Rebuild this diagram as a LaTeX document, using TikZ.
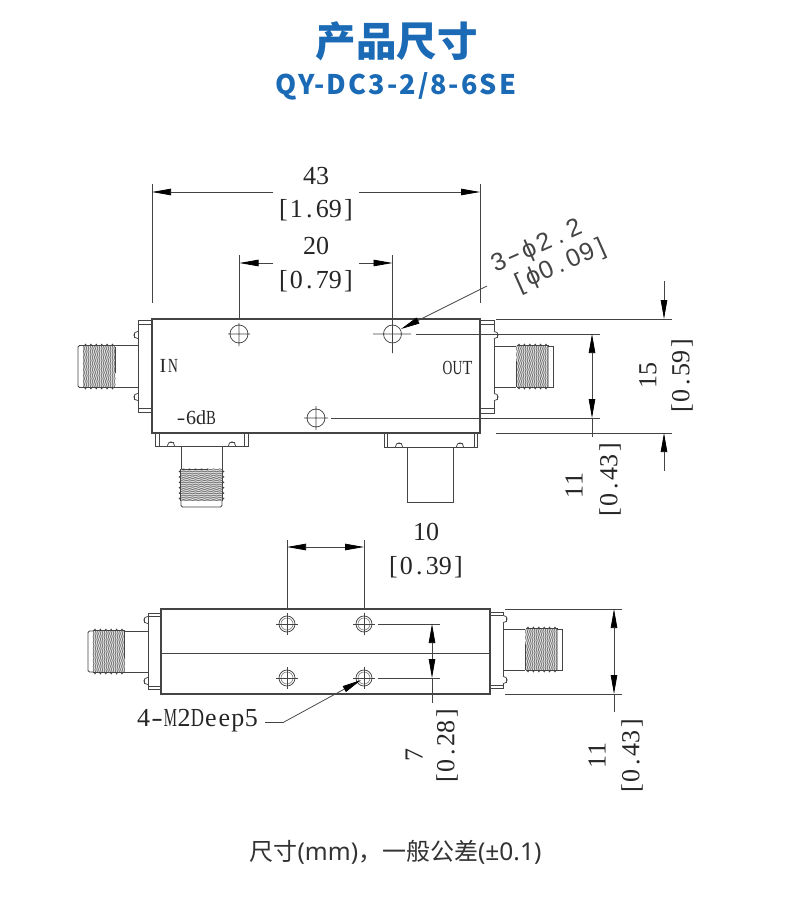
\documentclass[tikz,border=0pt]{standalone}
\usepackage{fontspec}
\usepackage{graphicx}
\usetikzlibrary{arrows.meta}
\setmainfont{Liberation Serif}
\newfontfamily\cjk{Noto Sans CJK SC}
\newfontfamily\lat{Noto Sans}
\newfontfamily\lbl{Liberation Sans}
\definecolor{titleblue}{HTML}{1B6AB5}
\definecolor{ink}{HTML}{444444}
\newlength\mwid
\makeatletter
\def\hy@{-}
\newcommand\mono[2][.5em]{\begingroup\setlength\mwid{#1}\@tfor\mc@:=#2\do{\sbox0{\mc@}\ifx\mc@\hy@\makebox[\mwid]{\resizebox{.85\mwid}{\height}{-}}\else\ifdim\wd0>\mwid\makebox[\mwid]{\resizebox{.98\mwid}{\height}{\mc@}}\else\makebox[\mwid]{\mc@}\fi\fi}\endgroup}
\makeatother
\newcommand\szz[1]{\fontsize{#1}{#1}\selectfont}
% thread of a connector: centre, rotation
\newcommand\thr[3]{\begin{scope}[shift={(#1,#2)},rotate=#3]
 \fill[gray!60] (-16,-21) rectangle (16,21);
 \foreach \i in {0,...,14}{
  \pgfmathsetmacro\tx{-15.5+\i*2.2}
  \draw[line width=.5pt,gray!80!black] (\tx,-21) -- ++(1,3) -- ++(-1,3) -- ++(1,3) -- ++(-1,3) -- ++(1,3) -- ++(-1,3) -- ++(1,3) -- ++(-1,3) -- ++(1,3) -- ++(-1,3) -- ++(1,3) -- ++(-1,3) -- ++(1,3) -- ++(-1,3);
  \draw[line width=.35pt,white] (\tx+1.1,-21) -- ++(1,3) -- ++(-1,3) -- ++(1,3) -- ++(-1,3) -- ++(1,3) -- ++(-1,3) -- ++(1,3) -- ++(-1,3) -- ++(1,3) -- ++(-1,3) -- ++(1,3) -- ++(-1,3) -- ++(1,3) -- ++(-1,3);
 }
 \foreach \i in {0,...,5}{
  \pgfmathsetmacro\tx{-13.5+\i*5.4}
  \fill[ink] (\tx-1.4,-21) -- (\tx,-23) -- (\tx+1.4,-21) -- cycle;
  \fill[ink] (\tx-1.4,21) -- (\tx,23) -- (\tx+1.4,21) -- cycle;
 }
 \draw[ink,line width=.5pt] (-16,-21) -- (16,-21) (-16,21) -- (16,21);
 \draw[ink,line width=1pt] (16,-20) -- (16,6);
\end{scope}}
% screw head on a flange
\newcommand\bump[3]{\begin{scope}[shift={(#1,#2)},rotate=#3]
 \draw[dline,fill=white] (0,-3.6) .. controls (-5.5,-3.6) and (-5.5,3.6) .. (0,3.6);
 \draw[line width=.5pt,ink] (-3.5,-2.5) -- (-3.5,2.5);
\end{scope}}
\tikzset{
 dline/.style={draw=ink,line width=.75pt},
 body/.style={draw=ink,line width=1.1pt},
 dimarr/.style={draw=ink,line width=.75pt,-{Triangle[length=19pt,width=6.5pt,color=black]}},
 txt/.style={inner sep=0pt,outer sep=0pt,text=black!85,font=\szz{26}},
 small/.style={inner sep=0pt,outer sep=0pt,text=black!85,font=\szz{20}},
 hole/.style={draw=ink,line width=.75pt},
}
\begin{document}
\begin{tikzpicture}[x=1pt,y=-1pt]
\useasboundingbox (0,0) rectangle (790,912);
\fill[white] (0,0) rectangle (790,912);
% titles
\node[inner sep=0pt,text=titleblue] (title) at (396.5,41) {\cjk\bfseries\szz{40.5}产品尺寸};
\node[inner sep=0pt,text=titleblue] (sub) at (396,86) {\cjk\bfseries\addfontfeature{LetterSpace=7.5}\szz{27}QY-DC3-2/8-6SE};
\node[inner sep=0pt,text=black!80] (foot) at (395.5,852) {\szz{24}\cjk 尺寸\lat\szz{24.5}(mm)\cjk\szz{24}，一般公差\lat\szz{24.5}(±0.1)};

% ---------- top view ----------
\coordinate (h1) at (239,334);
\coordinate (h2) at (392.5,334);
\coordinate (h3) at (316,418);
% threads
\thr{99}{366.5}{0}
\thr{532.5}{366.5}{180}
\thr{201.5}{485}{90}
% left connector
\draw[dline] (115,345.5) -- (138,345.5) (115,387.5) -- (138,387.5);
\draw[dline,rounded corners=1.5pt] (83,345.5) -- (78,345.5) -- (78,387.5) -- (83,387.5);
% right connector
\draw[dline] (494,346) -- (516,346) (494,387) -- (516,387);
\draw[dline] (548,346) -- (553,346) -- (553,387) -- (548,387);
% bottom connector
\draw[dline] (181,446) -- (181,469) (222,446) -- (222,469);
\draw[dline,rounded corners=1.5pt] (181,501) -- (181,507) -- (222,507) -- (222,501);
% load
\draw[dline] (407,447) rectangle (453,502);
% flanges
\draw[dline] (138,320) rectangle (152,412);
\draw[dline] (138,324) -- (152,324) (138,408) -- (152,408);
\draw[dline] (480,320) rectangle (494,413);
\draw[dline] (480,324) -- (494,324) (480,408) -- (494,408);
\draw[dline] (155,433) rectangle (248,446);
\draw[dline] (159,433) -- (159,446) (244,433) -- (244,446);
\draw[dline] (384,433) rectangle (477,447);
\draw[dline] (387,433) -- (387,447) (474,433) -- (474,447);
\bump{138}{335}{0}
\bump{138}{397}{0}
\bump{494}{335}{180}
\bump{494}{397}{180}
\bump{171}{446}{-90}
\bump{232}{446}{-90}
\bump{399}{447}{-90}
\bump{460}{447}{-90}
% body
\draw[body,fill=white] (152,319) rectangle (480,433);
% holes
\draw[hole] (h1) circle (9) (228,334) -- (250,334) (239,323) -- (239,346);
\draw[hole] (h2) circle (9) (373,334) -- (411,334) (392.5,353) -- (392.5,255);
\draw[hole] (h3) circle (9) (304,418) -- (328,418) (316,406) -- (316,430);
% extension lines
\draw[dline] (152,184) -- (152,303) (480,184) -- (480,303);
\draw[dline] (239.5,255) -- (239.5,319);
\draw[dline] (416,334) -- (600,334) (331,418) -- (600,418);
\draw[dline] (496,319) -- (672,319) (496,433) -- (672,433);
% dimensions
\draw[dimarr] (273,192) -- (152,192);
\draw[dimarr] (359,192) -- (480,192);
\draw[dimarr] (273,263) -- (239.5,263);
\draw[dimarr] (359,263) -- (392.5,263);
\draw[dimarr] (592,376) -- (592,334);
\draw[dimarr] (592,376) -- (592,418);
\draw[dline] (592,418) -- (592,437);
\draw[dimarr] (664,281) -- (664,319);
\draw[dimarr] (664,471) -- (664,433);
% leader
\coordinate (lead1) at (487,286);
\draw[dimarr] (lead1) -- (401,329);
% labels
\node[txt] (t43) at (316,176) {\mono{43}};
\node[txt] (t169) at (316,210) {\mono{[1.69]}};
\node[txt] (t20) at (316,246) {\mono{20}};
\node[txt] (t079) at (316,281) {\mono{[0.79]}};
\node[inner sep=0pt,rotate=24,text=ink,font=\lbl\szz{25}] (tphi) at (537,247) {\mono[16.5pt]{3-ϕ2.2}};
\node[inner sep=0pt,rotate=24,text=ink,font=\lbl\szz{25}] (tphi2) at (560.5,266) {\mono[14.8pt]{[ϕ0.09]}};
\node[small] (tin) at (168,366) {\mono{IN}};
\node[small] (tout) at (457.5,368) {\mono{OUT}};
\node[small] (t6) at (196,418) {\mono{-6dB}};
\node[txt,rotate=90] (t15) at (648,375) {\mono{15}};
\node[txt,rotate=90] (t059) at (682,376) {\mono{[0.59]}};
\node[txt,rotate=90] (t11a) at (574,485) {\mono{11}};
\node[txt,rotate=90] (t043a) at (610,480) {\mono{[0.43]}};

% ---------- lower view ----------
\coordinate (p1) at (287,624);
\coordinate (p2) at (364,624);
\coordinate (p3) at (287,678);
\coordinate (p4) at (364,678);
\thr{108.5}{651.5}{0}
\thr{541.5}{649.5}{180}
\draw[dline] (124,631) -- (148,631) (124,672) -- (148,672);
\draw[dline,rounded corners=1.5pt] (93,631) -- (88,631) -- (88,672) -- (93,672);
\draw[dline] (503,629) -- (525,629) (503,670) -- (525,670);
\draw[dline] (557,629) -- (562,629) -- (562,670) -- (557,670);
\draw[dline] (148,613) rectangle (161,689);
\draw[dline] (148,616) -- (161,616) (148,686) -- (161,686);
\draw[dline] (490,612) rectangle (503,688);
\draw[dline] (490,615) -- (503,615) (490,685) -- (503,685);
\bump{148}{620}{0}
\bump{148}{681}{0}
\bump{503}{619}{180}
\bump{503}{680}{180}
\draw[body,fill=white] (161,609) rectangle (490,694);
\draw[dline] (161,653) -- (490,653);
\foreach \c in {p1,p2,p3,p4}{
 \draw[hole] (\c) circle (8);
 \draw[draw=gray,line width=.6pt] (\c) circle (6);
 \draw[hole] ([xshift=-11pt]\c) -- ([xshift=11pt]\c) ([yshift=-11pt]\c) -- ([yshift=11pt]\c);
}
\draw[dline] (287,540) -- (287,609) (364,540) -- (364,609);
\draw[dimarr] (325,547) -- (287,547);
\draw[dimarr] (325,547) -- (364,547);
\draw[dline] (378,624) -- (440,624) (378,678) -- (440,678);
\draw[dline] (505,609) -- (622,609) (505,694) -- (622,694);
\draw[dimarr] (432,651) -- (432,624);
\draw[dimarr] (432,651) -- (432,678);
\draw[dline] (432,678) -- (432,703);
\draw[dimarr] (614,651) -- (614,609);
\draw[dimarr] (614,651) -- (614,694);
\draw[dline] (614,694) -- (614,712);
\node[txt] (t10) at (426,532) {\mono{10}};
\node[txt] (t039) at (426,567) {\mono{[0.39]}};
\node[txt] (tm2) at (197.5,721) {\mono[13.5pt]{4-M2Deep5}};
\coordinate (lead2) at (284,722);
\draw[dline] (265,722) -- (lead2);
\draw[dimarr] (lead2) -- (361,680);
\node[txt,rotate=90] (t7) at (414,755) {\mono{7}};
\node[txt,rotate=90] (t028) at (447,746) {\mono{[0.28]}};
\node[txt,rotate=90] (t11b) at (597,755) {\mono{11}};
\node[txt,rotate=90] (t043b) at (632,756) {\mono{[0.43]}};
\end{tikzpicture}
\end{document}
